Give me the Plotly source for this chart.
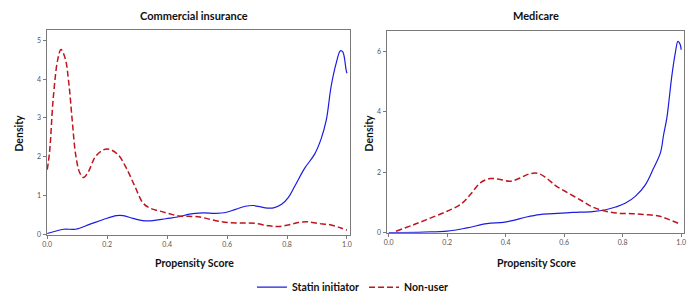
import plotly.graph_objects as go

# ---- data: Commercial insurance ----
ci_statin_x = [0.0, 0.055, 0.094, 0.143, 0.187, 0.231, 0.253, 0.286, 0.319, 0.352, 0.396, 0.44, 0.474,
               0.518, 0.562, 0.595, 0.628, 0.661, 0.688, 0.727, 0.755, 0.782, 0.804, 0.826, 0.859,
               0.892, 0.914, 0.931, 0.947, 0.964, 0.978, 0.986, 0.997, 1.0]
ci_statin_y = [0.03, 0.14, 0.14, 0.27, 0.39, 0.49, 0.49, 0.42, 0.36, 0.36, 0.41, 0.46, 0.53,
               0.56, 0.55, 0.57, 0.65, 0.73, 0.75, 0.69, 0.69, 0.78, 0.95, 1.25, 1.71,
               2.07, 2.47, 2.95, 3.81, 4.41, 4.73, 4.70, 4.24, 4.15]

ci_nonuser_x = [0.0, 0.008, 0.02, 0.035, 0.046, 0.06, 0.072, 0.083, 0.095, 0.108, 0.121, 0.138, 0.16,
                0.187, 0.209, 0.237, 0.264, 0.292, 0.319, 0.341, 0.374, 0.407, 0.44, 0.485, 0.518,
                0.562, 0.606, 0.65, 0.694, 0.738, 0.771, 0.804, 0.837, 0.87, 0.903, 0.947, 0.98, 1.0]
ci_nonuser_y = [1.67, 2.14, 3.5, 4.5, 4.76, 4.53, 3.9, 2.97, 2.05, 1.6, 1.47, 1.63, 2.0,
                2.18, 2.19, 2.05, 1.71, 1.25, 0.82, 0.69, 0.61, 0.54, 0.48, 0.47, 0.44,
                0.36, 0.31, 0.30, 0.29, 0.23, 0.21, 0.25, 0.31, 0.33, 0.29, 0.25, 0.17, 0.12]

# ---- data: Medicare ----
mc_statin_x = [0.0, 0.121, 0.2, 0.268, 0.336, 0.392, 0.426, 0.471, 0.516, 0.562, 0.629, 0.697, 0.742,
               0.776, 0.81, 0.844, 0.878, 0.906, 0.929, 0.94, 0.951, 0.957, 0.968, 0.98, 0.989,
               0.997, 1.0]
mc_statin_y = [0.0, 0.02, 0.05, 0.16, 0.30, 0.34, 0.41, 0.52, 0.60, 0.63, 0.67, 0.70, 0.76,
               0.85, 0.98, 1.21, 1.59, 2.14, 2.64, 3.24, 3.79, 4.25, 5.18, 5.95, 6.33,
               6.22, 6.05]

mc_nonuser_x = [0.025, 0.087, 0.144, 0.2, 0.245, 0.279, 0.313, 0.347, 0.381, 0.415, 0.449, 0.482, 0.511,
                0.539, 0.573, 0.618, 0.663, 0.697, 0.742, 0.788, 0.833, 0.878, 0.923, 0.957, 1.0]
mc_nonuser_y = [0.05, 0.27, 0.49, 0.71, 0.93, 1.26, 1.65, 1.79, 1.76, 1.70, 1.81, 1.95, 1.96,
                1.81, 1.54, 1.29, 1.04, 0.85, 0.71, 0.64, 0.63, 0.60, 0.55, 0.44, 0.27]

left_ticks = [0, 1, 2, 3, 4, 5]
right_ticks = [0, 2, 4, 6]
x_ticks = [0.0, 0.2, 0.4, 0.6, 0.8, 1.0]
x_ticklabels = ["0.0", "0.2", "0.4", "0.6", "0.8", "1.0"]

BLUE = "#1c1ce0"
RED = "#c0141e"
FONT = "Lato"
FRAME = "#7a7a7a"

fig = go.Figure()
fig.add_trace(go.Scatter(x=ci_statin_x, y=ci_statin_y, mode="lines", line=dict(color=BLUE, width=1.2, shape="spline"),
                         name="Statin initiator", xaxis="x", yaxis="y", legendgroup="s"))
fig.add_trace(go.Scatter(x=ci_nonuser_x, y=ci_nonuser_y, mode="lines",
                         line=dict(color=RED, width=1.5, dash="6px,3px", shape="spline"),
                         name="Non-user", xaxis="x", yaxis="y", legendgroup="n"))
fig.add_trace(go.Scatter(x=mc_statin_x, y=mc_statin_y, mode="lines", line=dict(color=BLUE, width=1.2, shape="spline"),
                         name="Statin initiator", xaxis="x2", yaxis="y2", showlegend=False, legendgroup="s"))
fig.add_trace(go.Scatter(x=mc_nonuser_x, y=mc_nonuser_y, mode="lines",
                         line=dict(color=RED, width=1.5, dash="6px,3px", shape="spline"),
                         name="Non-user", xaxis="x2", yaxis="y2", showlegend=False, legendgroup="n"))

axcommon = dict(showline=True, linecolor=FRAME, linewidth=1.2, mirror=True, showgrid=False, zeroline=False,
                ticks="outside", ticklen=3, tickcolor=FRAME, tickfont=dict(size=7, color="#555", family=FONT))

fig.update_layout(
    width=696, height=306,
    margin=dict(l=0, r=0, t=0, b=0),
    plot_bgcolor="white", paper_bgcolor="white",
    xaxis=dict(domain=[43 / 696, 349 / 696], range=[-0.002, 1.01], tickvals=x_ticks, ticktext=x_ticklabels,
               anchor="y", **axcommon),
    yaxis=dict(domain=[1 - 237 / 306, 1 - 30 / 306], range=[0, 5.27], tickvals=left_ticks, anchor="x", **axcommon),
    xaxis2=dict(domain=[386 / 696, 686 / 696], range=[-0.007, 1.01], tickvals=x_ticks, ticktext=x_ticklabels,
                anchor="y2", **axcommon),
    yaxis2=dict(domain=[1 - 235 / 306, 1 - 31.7 / 306], range=[0, 6.66], tickvals=right_ticks, anchor="x2", **axcommon),
    showlegend=True,
    legend=dict(orientation="h", x=352 / 696, xanchor="center", y=1 - 290 / 306, yanchor="middle",
                font=dict(family=FONT, size=10.5, color="#111", weight="bold"), itemwidth=30,
                bgcolor="rgba(0,0,0,0)"),
    font=dict(family=FONT),
)

ann = [
    dict(text="<b>Commercial insurance</b>", x=192 / 696, y=1 - 16 / 306, size=11, angle=0),
    dict(text="<b>Medicare</b>", x=537 / 696, y=1 - 16 / 306, size=11, angle=0),
    dict(text="<b>Density</b>", x=15 / 696, y=1 - 134 / 306, size=10.5, angle=-90),
    dict(text="<b>Density</b>", x=368 / 696, y=1 - 134 / 306, size=10.5, angle=-90),
    dict(text="<b>Propensity Score</b>", x=192.5 / 696, y=1 - 266 / 306, size=10.5, angle=0),
    dict(text="<b>Propensity Score</b>", x=536.7 / 696, y=1 - 266 / 306, size=10.5, angle=0),
]
for a in ann:
    fig.add_annotation(text=a["text"], x=a["x"], y=a["y"], xref="paper", yref="paper", showarrow=False,
                       xanchor="center", yanchor="middle", textangle=a["angle"],
                       font=dict(family=FONT, size=a["size"], color="#111"))

fig.write_html("out.html", config={"displayModeBar": False},
               post_script="document.body.style.margin='0px';document.body.style.padding='0px';")
